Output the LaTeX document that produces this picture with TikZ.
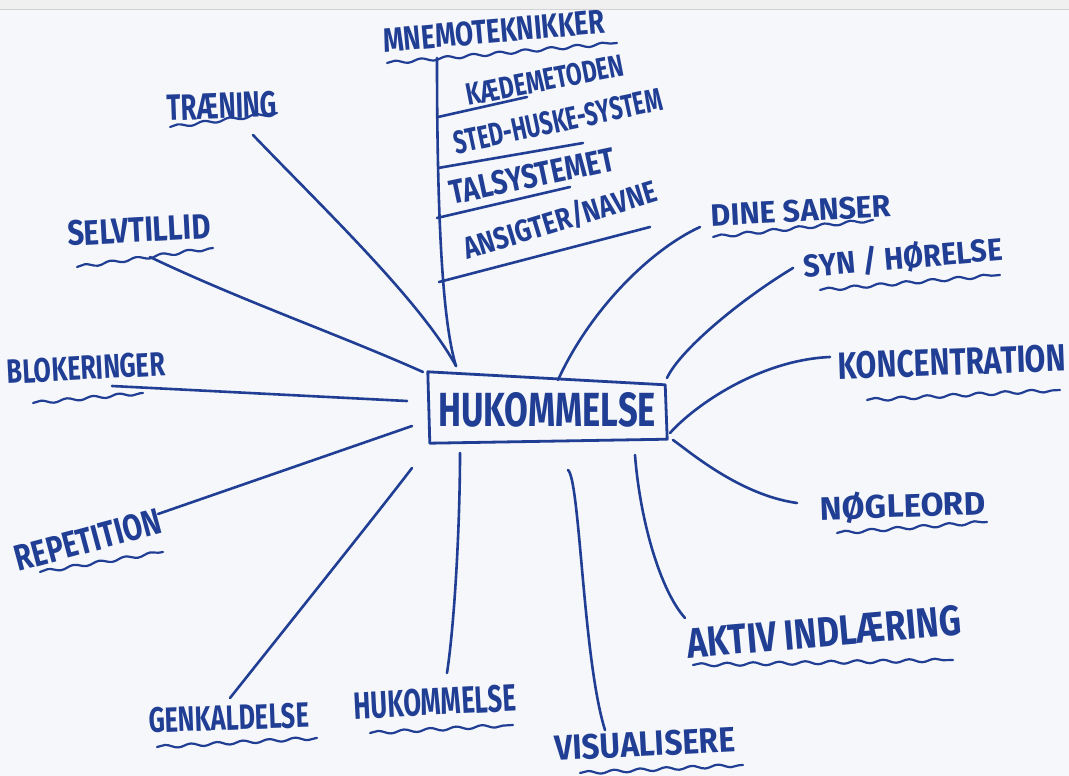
\documentclass[tikz,border=0pt]{standalone}
\usepackage{fontspec}
\usepackage{graphicx}
\setmainfont{Fira Sans}
\usetikzlibrary{decorations.pathmorphing}
\definecolor{ink}{RGB}{32,62,148}
\definecolor{paper}{RGB}{246,247,250}
% hand lettering: text squeezed to a given width and cap height
\newcommand{\hw}[3]{\resizebox{#1pt}{#2pt}{\bfseries #3}}

\begin{document}
\begin{tikzpicture}[x=1pt,y=-1pt,
  conn/.style={draw=ink,line width=2.6pt,line cap=round,line join=round},
  uline/.style={draw=ink,line width=2.2pt,line cap=round,decorate,
    decoration={snake,amplitude=1.6pt,segment length=26pt}},
  lbl/.style={text=ink,inner sep=0pt}]

% sheet
\fill[paper] (0,0) rectangle (1069,776);
\useasboundingbox (0,0) rectangle (1069,776);
\fill[gray!12] (0,0) rectangle (1069,9);
\draw[gray!35,line width=0.8pt] (0,9) -- (1069,9);

% central topic
\node[lbl,minimum width=238pt,minimum height=70pt] (hub) at (547,410) {\hw{218}{34}{HUKOMMELSE}};
\draw[ink,line width=2.8pt,line join=round,line cap=round]
  ([shift={(0,-3)}]hub.north west) -- ([shift={(-1,10)}]hub.north east)
  -- ([shift={(1,-6)}]hub.south east) -- ([shift={(2,-2)}]hub.south west) -- cycle;

% branch labels
\node[lbl,rotate=5]  (mnemo)  at (494,31)  {\hw{222}{24}{MNEMOTEKNIKKER}};
\node[lbl,rotate=11] (kaede)  at (545,80)  {\hw{160}{22}{KÆDEMETODEN}};
\node[lbl,rotate=12] (sted)   at (558,121) {\hw{212}{23}{STED-HUSKE-SYSTEM}};
\node[lbl,rotate=12] (tal)    at (532,176) {\hw{168}{24}{TALSYSTEMET}};
\node[lbl,rotate=17] (ansigt) at (560,220) {\hw{200}{25}{ANSIGTER/NAVNE}};
\node[lbl,rotate=2]  (traen)  at (222,106) {\hw{110}{26}{TRÆNING}};
\node[lbl,rotate=3]  (selv)   at (139,230) {\hw{143}{25}{SELVTILLID}};
\node[lbl,rotate=3]  (blok)   at (86,368)  {\hw{158}{24}{BLOKERINGER}};
\node[lbl,rotate=15] (rep)    at (88,540)  {\hw{150}{26}{REPETITION}};
\node[lbl,rotate=2]  (genk)   at (229,718) {\hw{160}{25}{GENKALDELSE}};
\node[lbl,rotate=3]  (huk)    at (435,702) {\hw{162}{27}{HUKOMMELSE}};
\node[lbl,rotate=3]  (vis)    at (645,744) {\hw{180}{25}{VISUALISERE}};
\node[lbl,rotate=5]  (aktiv)  at (824,632) {\hw{275}{30}{AKTIV INDLÆRING}};
\node[lbl,rotate=2]  (nogle)  at (903,506) {\hw{165}{27}{NØGLEORD}};
\node[lbl,rotate=2]  (konc)   at (952,362) {\hw{228}{27}{KONCENTRATION}};
\node[lbl,rotate=5]  (syn)    at (903,258) {\hw{200}{26}{SYN / HØRELSE}};
\node[lbl,rotate=3]  (dine)   at (801,211) {\hw{180}{22}{DINE SANSER}};

% wavy underlines
\draw[uline] (387,63) -- (617,43);
\draw[uline] (170,127) -- (277,113);
\draw[uline] (77,267) -- (213,248);
\draw[uline] (33,403) -- (143,393);
\draw[uline] (40,572) -- (163,552);
\draw[uline] (157,747) -- (317,738);
\draw[uline] (370,733) -- (513,725);
\draw[uline] (580,773) -- (743,765);
\draw[uline] (693,665) -- (953,660);
\draw[uline] (837,533) -- (987,522);
\draw[uline] (867,400) -- (1060,390);
\draw[uline] (820,290) -- (1000,275);
\draw[uline] (713,237) -- (873,220);

% attachment points on the central box
\coordinate (hTr) at (456,366);
\coordinate (hSe) at (423,372);
\coordinate (hBl) at (407,401);
\coordinate (hRe) at (412,426);
\coordinate (hGe) at (412,468);
\coordinate (hHu) at (460,453);
\coordinate (hVi) at (568,470);
\coordinate (hAk) at (635,455);
\coordinate (hNo) at (673,440);
\coordinate (hKo) at (670,433);
\coordinate (hSy) at (667,378);
\coordinate (hDi) at (558,380);

% attachment points at the labels
\coordinate (eMn) at (437,58);
\coordinate (eTr) at (253,135);
\coordinate (eSe) at (150,257);
\coordinate (eBl) at (112,386);
\coordinate (eRe) at (158,514);
\coordinate (eGe) at (230,698);
\coordinate (eHu) at (447,673);
\coordinate (eVi) at (605,730);
\coordinate (eAk) at (685,618);
\coordinate (eNo) at (797,503);
\coordinate (eKo) at (830,357);
\coordinate (eSy) at (793,268);
\coordinate (eDi) at (700,227);

% sub-branches of the mnemonics trunk
\coordinate (t1) at (438,117);
\coordinate (t2) at (438,168);
\coordinate (t3) at (437,218);
\coordinate (t4) at (439,282);
\coordinate (s1) at (527,97);
\coordinate (s2) at (583,143);
\coordinate (s3) at (570,187);
\coordinate (s4) at (650,227);

% connectors
\draw[conn] (eMn) .. controls (437,250) and (445,330) .. (hTr);
\draw[conn] (t1) -- (s1);
\draw[conn] (t2) -- (s2);
\draw[conn] (t3) -- (s3);
\draw[conn] (t4) -- (s4);
\draw[conn] (eTr) .. controls (320,205) and (420,300) .. (hTr);
\draw[conn] (eSe) .. controls (240,300) and (340,335) .. (hSe);
\draw[conn] (eBl) -- (hBl);
\draw[conn] (eRe) -- (hRe);
\draw[conn] (eGe) .. controls (300,610) and (380,510) .. (hGe);
\draw[conn] (eHu) .. controls (455,620) and (460,520) .. (hHu);
\draw[conn] (eVi) .. controls (583,660) and (580,480) .. (hVi);
\draw[conn] (eAk) .. controls (660,590) and (640,520) .. (hAk);
\draw[conn] (eNo) .. controls (740,495) and (690,452) .. (hNo);
\draw[conn] (eKo) .. controls (760,360) and (695,405) .. (hKo);
\draw[conn] (eSy) .. controls (740,300) and (680,350) .. (hSy);
\draw[conn] (eDi) .. controls (650,250) and (590,310) .. (hDi);
\end{tikzpicture}
\end{document}
